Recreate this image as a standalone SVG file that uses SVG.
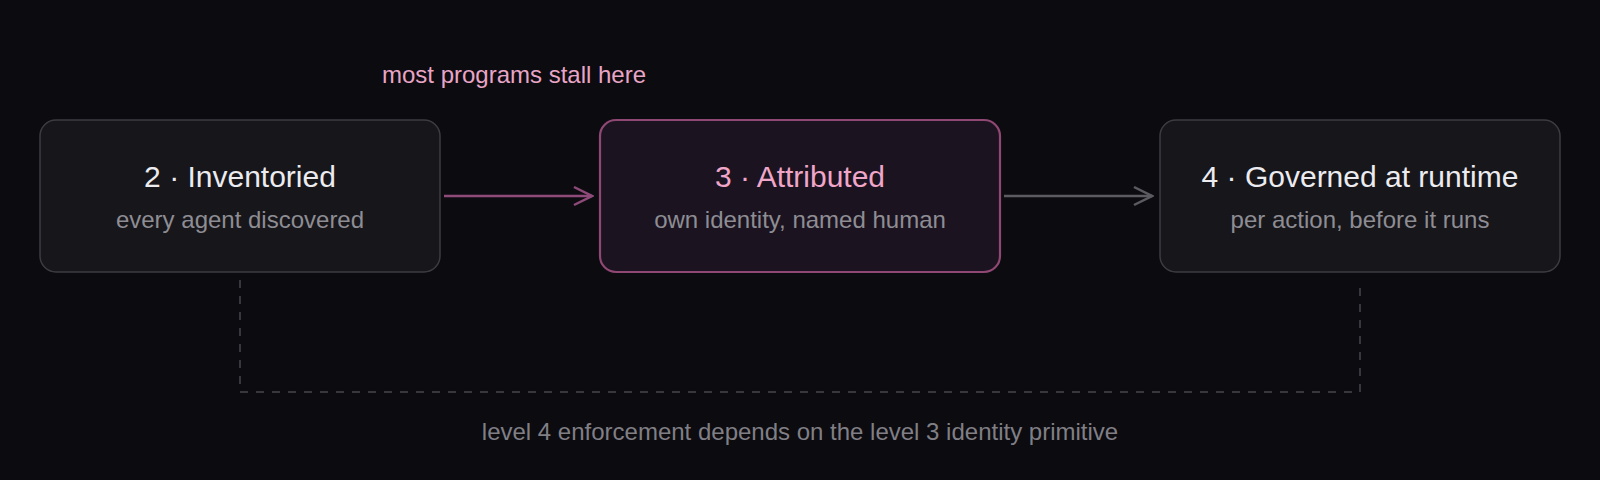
<svg xmlns="http://www.w3.org/2000/svg" width="1600" height="480" viewBox="0 0 1600 480">
  <style>
    text { font-family: "Liberation Sans", Arial, Helvetica, sans-serif; text-anchor: middle; }
    .box { fill: #17161b; stroke: #3d3c42; stroke-width: 1.5; }
    .box-hl { fill: #1b1320; stroke: #8f4774; stroke-width: 2.2; }
    .title { font-size: 30px; fill: #ececf0; }
    .title-hl { font-size: 30px; fill: #f0a6c8; }
    .sub { font-size: 24px; fill: #8e8d93; }
    .note { font-size: 24px; fill: #e8a5c5; }
    .foot { font-size: 24px; fill: #807f85; }
    .edge-hl { stroke: #8e4a78; stroke-width: 2.5; fill: none; }
    .edge { stroke: #5c5b62; stroke-width: 2.5; fill: none; }
    .dep { stroke: #48474d; stroke-width: 1.5; fill: none; stroke-dasharray: 8 8; }
  </style>
  <defs>
    <marker id="arrow-hl" viewBox="0 0 22 22" refX="20" refY="11" markerWidth="22" markerHeight="22" markerUnits="userSpaceOnUse" orient="auto">
      <path d="M2 2 L20 11 L2 20" fill="none" stroke="#8e4a78" stroke-width="2.5"/>
    </marker>
    <marker id="arrow" viewBox="0 0 22 22" refX="20" refY="11" markerWidth="22" markerHeight="22" markerUnits="userSpaceOnUse" orient="auto">
      <path d="M2 2 L20 11 L2 20" fill="none" stroke="#5c5b62" stroke-width="2.5"/>
    </marker>
  </defs>
  <rect width="1600" height="480" fill="#0c0b10"/>

  <text class="note" x="514" y="83">most programs stall here</text>

  <g id="connectors">
    <line class="edge-hl" x1="444" y1="196" x2="592" y2="196" marker-end="url(#arrow-hl)"/>
    <line class="edge" x1="1004" y1="196" x2="1152" y2="196" marker-end="url(#arrow)"/>
    <path class="dep" d="M240 280 V392 H1360 V280"/>
  </g>

  <g id="node-inventoried">
    <rect class="box" x="40" y="120" width="400" height="152" rx="16"/>
    <text class="title" x="240" y="187">2 · Inventoried</text>
    <text class="sub" x="240" y="228">every agent discovered</text>
  </g>

  <g id="node-attributed">
    <rect class="box-hl" x="600" y="120" width="400" height="152" rx="16"/>
    <text class="title-hl" x="800" y="187">3 · Attributed</text>
    <text class="sub" x="800" y="228">own identity, named human</text>
  </g>

  <g id="node-governed">
    <rect class="box" x="1160" y="120" width="400" height="152" rx="16"/>
    <text class="title" x="1360" y="187">4 · Governed at runtime</text>
    <text class="sub" x="1360" y="228">per action, before it runs</text>
  </g>

  <text class="foot" x="800" y="440">level 4 enforcement depends on the level 3 identity primitive</text>
</svg>
